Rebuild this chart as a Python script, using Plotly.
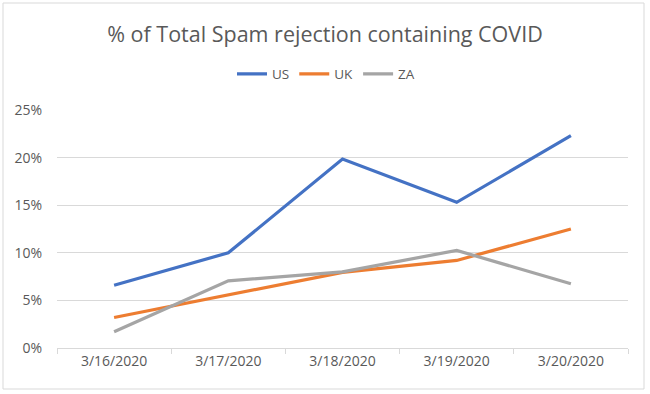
import plotly.graph_objects as go

dates = ["3/16/2020", "3/17/2020", "3/18/2020", "3/19/2020", "3/20/2020"]
us = [0.066, 0.100, 0.1985, 0.153, 0.223]
uk = [0.032, 0.056, 0.0795, 0.092, 0.125]
za = [0.017, 0.0705, 0.080, 0.1025, 0.0675]

series = [("US", us, "#4472C4"), ("UK", uk, "#ED7D31"), ("ZA", za, "#A5A5A5")]

W, H = 650, 394
L, R, T, B = 57, 22, 110, 46
pw, ph = W - L - R, H - T - B

fig = go.Figure()
for name, vals, col in series:
    fig.add_trace(go.Scatter(x=dates, y=vals, name=name, mode="lines",
                             line=dict(color=col, width=3.2)))

def px_x(x):
    return (x - L) / pw

def px_y(y):
    return (H - B - y) / ph

fig.update_layout(
    width=W, height=H,
    margin=dict(l=L, r=R, t=T, b=B),
    paper_bgcolor="white", plot_bgcolor="white",
    font=dict(family="Open Sans", color="#595959", size=13),
    title=dict(text="% of Total Spam rejection containing COVID",
               x=0.5, xref="container", xanchor="center",
               y=1 - 34 / H, yref="container", yanchor="middle",
               font=dict(size=21.5, color="#595959")),
    legend=dict(orientation="h", x=px_x(326), xanchor="center",
                y=px_y(74), yanchor="middle", font=dict(size=13.5, color="#595959"),
                itemwidth=30, traceorder="normal"),
    showlegend=True,
    xaxis=dict(type="category", range=[-0.5, len(dates) - 0.5], showgrid=False,
               showline=True, linecolor="#D9D9D9",
               linewidth=1, ticks="outside", tickson="boundaries", ticklen=5,
               tickcolor="#D9D9D9", tickfont=dict(size=14, color="#595959"),
               fixedrange=True),
    yaxis=dict(range=[0, 0.25], dtick=0.05, tickformat=".0%", showgrid=True,
               gridcolor="#D9D9D9", gridwidth=1, zeroline=False, showline=False,
               ticks="", ticklabelstandoff=14,
               tickfont=dict(size=14, color="#595959")),
    shapes=[dict(type="rect", xref="paper", yref="paper",
                 x0=px_x(3), x1=px_x(644), y0=px_y(389), y1=px_y(3),
                 line=dict(color="#D9D9D9", width=1), fillcolor="rgba(0,0,0,0)",
                 layer="below")],
)

fig.write_html("out.html", config={"displayModeBar": False},
               post_script="document.body.style.margin='0';document.body.style.overflow='hidden';")
